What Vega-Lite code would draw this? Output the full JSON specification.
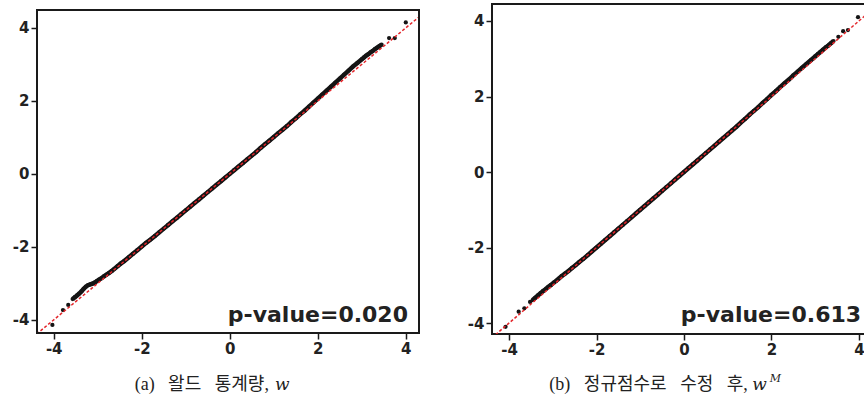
{
  "$schema": "https://vega.github.io/schema/vega-lite/v6.json",
  "padding": {"left": 12, "top": 3, "right": 0, "bottom": 0},
  "background": "white",
  "config": {
    "view": {"stroke": null},
    "axis": {"grid": false, "domain": false, "tickSize": 6, "tickWidth": 1.5, "tickColor": "#1a1a1a", "labelFont": "DejaVu Sans", "labelFontWeight": "bold", "labelFontSize": 15, "labelColor": "#222222", "labelPadding": 2, "title": null}
  },
  "datasets": {
    "a": [
      {"x": -4.03, "y": -4.14}, {"x": -3.79, "y": -3.73}, {"x": -3.67, "y": -3.59}, {"x": -3.57, "y": -3.43}, {"x": -3.52, "y": -3.38}, {"x": -3.47, "y": -3.33}, {"x": -3.42, "y": -3.28}, {"x": -3.37, "y": -3.22}, {"x": -3.32, "y": -3.15}, {"x": -3.27, "y": -3.09}, {"x": -3.22, "y": -3.05}, {"x": -3.17, "y": -3.03}, {"x": -3.12, "y": -3.01}, {"x": -3.07, "y": -2.98}, {"x": -3.02, "y": -2.94}, {"x": -2.97, "y": -2.9}, {"x": -2.92, "y": -2.86}, {"x": -2.86, "y": -2.81}, {"x": -2.8, "y": -2.76}, {"x": -2.74, "y": -2.71}, {"x": -2.68, "y": -2.66}, {"x": -2.62, "y": -2.6}, {"x": -2.55, "y": -2.53}, {"x": -2.48, "y": -2.46}, {"x": -2.4, "y": -2.39}, {"x": -2.3, "y": -2.29}, {"x": -2.2, "y": -2.19}, {"x": -2.1, "y": -2.09}, {"x": -2.0, "y": -1.99}, {"x": -1.9, "y": -1.89}, {"x": -1.8, "y": -1.8}, {"x": -1.7, "y": -1.7}, {"x": -1.6, "y": -1.6}, {"x": -1.5, "y": -1.5}, {"x": -1.4, "y": -1.4}, {"x": -1.3, "y": -1.3}, {"x": -1.2, "y": -1.2}, {"x": -1.1, "y": -1.1}, {"x": -1.0, "y": -1.0}, {"x": -0.9, "y": -0.9}, {"x": -0.8, "y": -0.8}, {"x": -0.7, "y": -0.7}, {"x": -0.6, "y": -0.6}, {"x": -0.5, "y": -0.5}, {"x": -0.4, "y": -0.4}, {"x": -0.3, "y": -0.3}, {"x": -0.2, "y": -0.2}, {"x": -0.1, "y": -0.1}, {"x": 0, "y": 0}, {"x": 0.1, "y": 0.1}, {"x": 0.2, "y": 0.2}, {"x": 0.3, "y": 0.3}, {"x": 0.4, "y": 0.4}, {"x": 0.5, "y": 0.5}, {"x": 0.6, "y": 0.6}, {"x": 0.7, "y": 0.71}, {"x": 0.8, "y": 0.81}, {"x": 0.9, "y": 0.91}, {"x": 1.0, "y": 1.01}, {"x": 1.1, "y": 1.11}, {"x": 1.2, "y": 1.21}, {"x": 1.3, "y": 1.31}, {"x": 1.4, "y": 1.42}, {"x": 1.5, "y": 1.52}, {"x": 1.6, "y": 1.63}, {"x": 1.7, "y": 1.73}, {"x": 1.8, "y": 1.84}, {"x": 1.9, "y": 1.95}, {"x": 2.0, "y": 2.06}, {"x": 2.1, "y": 2.17}, {"x": 2.2, "y": 2.28}, {"x": 2.3, "y": 2.39}, {"x": 2.4, "y": 2.5}, {"x": 2.5, "y": 2.61}, {"x": 2.6, "y": 2.72}, {"x": 2.7, "y": 2.83}, {"x": 2.8, "y": 2.94}, {"x": 2.9, "y": 3.04}, {"x": 3.0, "y": 3.14}, {"x": 3.05, "y": 3.19}, {"x": 3.1, "y": 3.24}, {"x": 3.15, "y": 3.28}, {"x": 3.2, "y": 3.33}, {"x": 3.25, "y": 3.37}, {"x": 3.3, "y": 3.42}, {"x": 3.35, "y": 3.46}, {"x": 3.4, "y": 3.5}, {"x": 3.45, "y": 3.54}, {"x": 3.62, "y": 3.72}, {"x": 3.75, "y": 3.72}, {"x": 4.0, "y": 4.15}
    ],
    "b": [
      {"x": -4.08, "y": -4.1}, {"x": -3.78, "y": -3.7}, {"x": -3.65, "y": -3.61}, {"x": -3.52, "y": -3.44}, {"x": -3.46, "y": -3.39}, {"x": -3.4, "y": -3.33}, {"x": -3.34, "y": -3.27}, {"x": -3.28, "y": -3.21}, {"x": -3.22, "y": -3.15}, {"x": -3.16, "y": -3.1}, {"x": -3.1, "y": -3.04}, {"x": -3.04, "y": -2.99}, {"x": -2.98, "y": -2.93}, {"x": -2.92, "y": -2.88}, {"x": -2.86, "y": -2.82}, {"x": -2.8, "y": -2.76}, {"x": -2.72, "y": -2.69}, {"x": -2.64, "y": -2.62}, {"x": -2.56, "y": -2.54}, {"x": -2.48, "y": -2.47}, {"x": -2.4, "y": -2.39}, {"x": -2.3, "y": -2.3}, {"x": -2.2, "y": -2.2}, {"x": -2.1, "y": -2.1}, {"x": -2.0, "y": -2.0}, {"x": -1.9, "y": -1.9}, {"x": -1.8, "y": -1.8}, {"x": -1.7, "y": -1.7}, {"x": -1.6, "y": -1.6}, {"x": -1.5, "y": -1.5}, {"x": -1.4, "y": -1.4}, {"x": -1.3, "y": -1.3}, {"x": -1.2, "y": -1.2}, {"x": -1.1, "y": -1.1}, {"x": -1.0, "y": -1.0}, {"x": -0.9, "y": -0.9}, {"x": -0.8, "y": -0.8}, {"x": -0.7, "y": -0.7}, {"x": -0.6, "y": -0.6}, {"x": -0.5, "y": -0.5}, {"x": -0.4, "y": -0.4}, {"x": -0.3, "y": -0.3}, {"x": -0.2, "y": -0.2}, {"x": -0.1, "y": -0.1}, {"x": 0, "y": 0}, {"x": 0.1, "y": 0.1}, {"x": 0.2, "y": 0.2}, {"x": 0.3, "y": 0.3}, {"x": 0.4, "y": 0.4}, {"x": 0.5, "y": 0.5}, {"x": 0.6, "y": 0.6}, {"x": 0.7, "y": 0.7}, {"x": 0.8, "y": 0.8}, {"x": 0.9, "y": 0.9}, {"x": 1.0, "y": 1.0}, {"x": 1.1, "y": 1.1}, {"x": 1.2, "y": 1.2}, {"x": 1.3, "y": 1.31}, {"x": 1.4, "y": 1.41}, {"x": 1.5, "y": 1.52}, {"x": 1.6, "y": 1.62}, {"x": 1.7, "y": 1.72}, {"x": 1.8, "y": 1.83}, {"x": 1.9, "y": 1.93}, {"x": 2.0, "y": 2.04}, {"x": 2.1, "y": 2.14}, {"x": 2.2, "y": 2.25}, {"x": 2.3, "y": 2.35}, {"x": 2.4, "y": 2.45}, {"x": 2.5, "y": 2.56}, {"x": 2.6, "y": 2.66}, {"x": 2.7, "y": 2.76}, {"x": 2.8, "y": 2.86}, {"x": 2.9, "y": 2.96}, {"x": 3.0, "y": 3.06}, {"x": 3.06, "y": 3.12}, {"x": 3.12, "y": 3.18}, {"x": 3.18, "y": 3.24}, {"x": 3.24, "y": 3.3}, {"x": 3.3, "y": 3.35}, {"x": 3.36, "y": 3.41}, {"x": 3.42, "y": 3.47}, {"x": 3.53, "y": 3.58}, {"x": 3.64, "y": 3.73}, {"x": 3.75, "y": 3.76}, {"x": 3.98, "y": 4.1}
    ],
    "diag": [{"x": -5, "y": -5}, {"x": 5, "y": 5}]
  },
  "spacing": 46,
  "hconcat": [
    {
      "width": 382,
      "height": 329,
      "layer": [
        {
          "data": {"name": "a"},
          "transform": [{"filter": "datum.x > -3.6 && datum.x < 3.5"}],
          "mark": {"type": "line", "color": "#141414", "strokeWidth": 4.5, "clip": true},
          "encoding": {
            "x": {"field": "x", "type": "quantitative", "scale": {"domain": [-4.38, 4.3], "nice": false, "zero": false}, "axis": {"values": [-4, -2, 0, 2, 4], "labelExpr": "datum.value < 0 ? '-' + abs(datum.value) : '' + datum.value"}},
            "y": {"field": "y", "type": "quantitative", "scale": {"domain": [-4.36, 4.654], "nice": false, "zero": false}, "axis": {"values": [-4, -2, 0, 2, 4], "labelExpr": "datum.value < 0 ? '-' + abs(datum.value) : '' + datum.value"}}
          }
        },
        {
          "data": {"name": "a"},
          "mark": {"type": "circle", "color": "#141414", "size": 18, "opacity": 1, "clip": true},
          "encoding": {
            "x": {"field": "x", "type": "quantitative"},
            "y": {"field": "y", "type": "quantitative"}
          }
        },
        {
          "data": {"name": "diag"},
          "mark": {"type": "line", "color": "#e3262b", "strokeWidth": 1.5, "strokeDash": [3, 2], "clip": true},
          "encoding": {
            "x": {"field": "x", "type": "quantitative"},
            "y": {"field": "y", "type": "quantitative"}
          }
        },
        {
          "data": {"values": [{"frame": "a"}]},
          "mark": {"type": "rect", "filled": false, "stroke": "#1a1a1a", "strokeWidth": 2},
          "encoding": {
            "x": {"datum": -4.38, "type": "quantitative"},
            "x2": {"datum": 4.3},
            "y": {"datum": -4.36, "type": "quantitative"},
            "y2": {"datum": 4.49}
          }
        },
        {
          "data": {"values": [{"label": "p-value=0.020"}]},
          "mark": {"type": "text", "align": "right", "baseline": "alphabetic", "font": "DejaVu Sans", "fontWeight": "bold", "fontSize": 22, "color": "#222222"},
          "encoding": {
            "text": {"field": "label"},
            "x": {"datum": 4.05, "type": "quantitative"},
            "y": {"datum": -4.06, "type": "quantitative"}
          }
        },
        {
          "data": {"values": [{"label": "(a) \u2002왈드 \u2002통계량,"}]},
          "mark": {"type": "text", "align": "right", "baseline": "alphabetic", "font": "Liberation Serif, Noto Sans CJK KR", "fontSize": 18, "color": "#222222"},
          "encoding": {
            "text": {"field": "label"},
            "x": {"datum": 0.89, "type": "quantitative"},
            "y": {"datum": -5.92, "type": "quantitative"}
          }
        },
        {
          "data": {"values": [{"label": "w"}]},
          "mark": {"type": "text", "align": "left", "baseline": "alphabetic", "font": "DejaVu Serif", "fontStyle": "italic", "fontSize": 17, "color": "#222222"},
          "encoding": {
            "text": {"field": "label"},
            "x": {"datum": 1.03, "type": "quantitative"},
            "y": {"datum": -5.92, "type": "quantitative"}
          }
        }
      ]
    },
    {
      "width": 380,
      "height": 330,
      "view": {"stroke": "#1a1a1a", "strokeWidth": 2},
      "layer": [
        {
          "data": {"name": "b"},
          "transform": [{"filter": "datum.x > -3.5 && datum.x < 3.5"}],
          "mark": {"type": "line", "color": "#141414", "strokeWidth": 4.5, "clip": true},
          "encoding": {
            "x": {"field": "x", "type": "quantitative", "scale": {"domain": [-4.39, 4.3], "nice": false, "zero": false}, "axis": {"values": [-4, -2, 0, 2, 4], "labelExpr": "datum.value < 0 ? '-' + abs(datum.value) : '' + datum.value"}},
            "y": {"field": "y", "type": "quantitative", "scale": {"domain": [-4.29, 4.45], "nice": false, "zero": false}, "axis": {"values": [-4, -2, 0, 2, 4], "labelExpr": "datum.value < 0 ? '-' + abs(datum.value) : '' + datum.value"}}
          }
        },
        {
          "data": {"name": "b"},
          "mark": {"type": "circle", "color": "#141414", "size": 18, "opacity": 1, "clip": true},
          "encoding": {
            "x": {"field": "x", "type": "quantitative"},
            "y": {"field": "y", "type": "quantitative"}
          }
        },
        {
          "data": {"name": "diag"},
          "mark": {"type": "line", "color": "#e3262b", "strokeWidth": 1.5, "strokeDash": [3, 2], "clip": true},
          "encoding": {
            "x": {"field": "x", "type": "quantitative"},
            "y": {"field": "y", "type": "quantitative"}
          }
        },
        {
          "data": {"values": [{"label": "p-value=0.613"}]},
          "mark": {"type": "text", "align": "right", "baseline": "alphabetic", "font": "DejaVu Sans", "fontWeight": "bold", "fontSize": 22, "color": "#222222"},
          "encoding": {
            "text": {"field": "label"},
            "x": {"datum": 4.05, "type": "quantitative"},
            "y": {"datum": -3.97, "type": "quantitative"}
          }
        },
        {
          "data": {"values": [{"label": "(b) \u2002정규점수로 \u2002수정 \u2002후,"}]},
          "mark": {"type": "text", "align": "right", "baseline": "alphabetic", "font": "Liberation Serif, Noto Sans CJK KR", "fontSize": 18, "color": "#222222"},
          "encoding": {
            "text": {"field": "label"},
            "x": {"datum": 1.46, "type": "quantitative"},
            "y": {"datum": -5.77, "type": "quantitative"}
          }
        },
        {
          "data": {"values": [{"label": "w"}]},
          "mark": {"type": "text", "align": "left", "baseline": "alphabetic", "font": "DejaVu Serif", "fontStyle": "italic", "fontSize": 17, "color": "#222222"},
          "encoding": {
            "text": {"field": "label"},
            "x": {"datum": 1.56, "type": "quantitative"},
            "y": {"datum": -5.77, "type": "quantitative"}
          }
        },
        {
          "data": {"values": [{"label": "M"}]},
          "mark": {"type": "text", "align": "left", "baseline": "alphabetic", "font": "DejaVu Serif", "fontStyle": "italic", "fontSize": 11, "color": "#222222"},
          "encoding": {
            "text": {"field": "label"},
            "x": {"datum": 1.96, "type": "quantitative"},
            "y": {"datum": -5.56, "type": "quantitative"}
          }
        }
      ]
    }
  ]
}
